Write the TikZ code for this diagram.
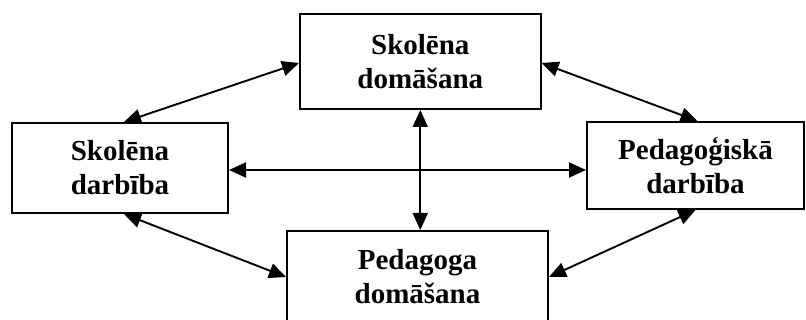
\documentclass[tikz,border=0pt]{standalone}
\usepackage{fontspec}
\setmainfont{Liberation Serif}
\usetikzlibrary{arrows.meta}
\begin{document}
\begin{tikzpicture}[x=1pt,y=-1pt,
  box/.style={draw, line width=2pt, rectangle, align=center, inner sep=0pt,
    font=\fontsize{29pt}{34pt}\selectfont\bfseries},
  tip/.style={Triangle[length=17pt,width=15pt]},
  link/.style={line width=1.9pt, {Triangle[length=17pt,width=15pt]}-{Triangle[length=17pt,width=15pt]}}]
  % page frame; the lower box runs past the bottom edge
  \clip (0,0) rectangle (806,320);
  \node[box, minimum width=240.5pt, minimum height=95pt] (top) at (420.3,61.5) {Skolēna\\domāšana};
  \node[box, minimum width=216pt, minimum height=90pt] (left) at (120,168) {Skolēna\\darbība};
  \node[box, minimum width=217pt, minimum height=87pt] (right) at (695.5,165.5) {Pedagoģiskā\\darbība};
  \node[box, minimum width=261pt, minimum height=92pt] (bottom) at (417.5,277) {Pedagoga\\domāšana};
  % connectors
  \draw[link] ([xshift=4pt]left.north) -- ([yshift=-1.5pt]top.west);
  \draw[link] ([yshift=-1.5pt]top.east) -- ([xshift=2pt]right.north);
  \draw[link] ([yshift=-2pt]left.east) -- ([yshift=-2pt]left.east -| right.west);
  \draw[link] (top.south) -- (top.south |- bottom.north);
  \draw[link] ([xshift=4pt]left.south) -- (bottom.west);
  \draw[link] (right.south) -- (bottom.east);
\end{tikzpicture}
\end{document}
